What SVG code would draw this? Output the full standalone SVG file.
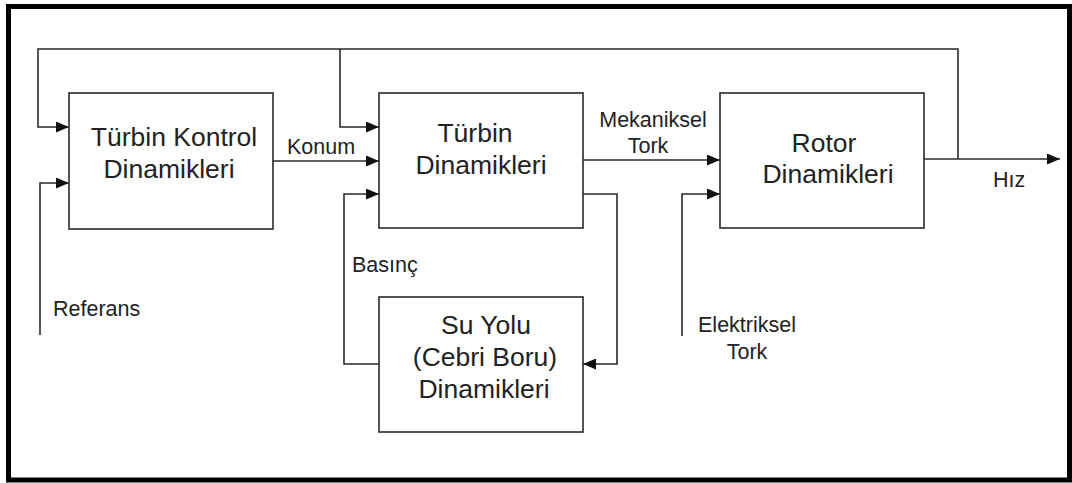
<svg xmlns="http://www.w3.org/2000/svg" width="1072" height="483" viewBox="0 0 1072 483">
  <style>
    .box { fill: #ffffff; stroke: #2a2a2a; stroke-width: 1.6; }
    .line { fill: none; stroke: #2a2a2a; stroke-width: 1.6; }
    .arr { marker-end: url(#ah); }
    .t { font-family: "Liberation Sans", Arial, sans-serif; fill: #222222; }
    .big { font-size: 26.5px; text-anchor: middle; }
    .lbl { font-size: 21.5px; }
  </style>
  <defs>
    <marker id="ah" viewBox="0 0 13 11" refX="13" refY="5.5" markerWidth="13" markerHeight="11" markerUnits="userSpaceOnUse" orient="auto">
      <path d="M0,0 L13,5.5 L0,11 z" fill="#111111"/>
    </marker>
  </defs>
  <rect x="0" y="0" width="1072" height="483" fill="#ffffff"/>
  <rect x="8.5" y="6.5" width="1061" height="473.5" fill="none" stroke="#000000" stroke-width="5"/>

  <g id="connectors">
    <path class="line arr" d="M924,159 H1060"/>
    <path class="line arr" d="M958,159 V49 H38 V127 H69"/>
    <path class="line arr" d="M340,49 V127 H379"/>
    <path class="line arr" d="M40,335 V183 H69"/>
    <path class="line arr" d="M273,161 H379"/>
    <path class="line arr" d="M379,364 H344 V194 H379"/>
    <path class="line arr" d="M583,194 H617 V364 H583"/>
    <path class="line arr" d="M583,160 H720"/>
    <path class="line arr" d="M682,336 V194 H720"/>
  </g>

  <g id="turbin-kontrol">
    <rect class="box" x="69" y="93" width="204" height="136"/>
    <text class="t big" x="174" y="146">Türbin Kontrol</text>
    <text class="t big" x="169" y="178">Dinamikleri</text>
  </g>

  <g id="turbin">
    <rect class="box" x="379" y="93" width="204" height="135"/>
    <text class="t big" x="475" y="142">Türbin</text>
    <text class="t big" x="481" y="174">Dinamikleri</text>
  </g>

  <g id="rotor">
    <rect class="box" x="720" y="93" width="204" height="135"/>
    <text class="t big" x="824" y="152">Rotor</text>
    <text class="t big" x="828" y="183">Dinamikleri</text>
  </g>

  <g id="su-yolu">
    <rect class="box" x="379" y="297" width="204" height="135"/>
    <text class="t big" x="486" y="334">Su Yolu</text>
    <text class="t big" x="485" y="366">(Cebri Boru)</text>
    <text class="t big" x="484" y="398">Dinamikleri</text>
  </g>

  <g id="labels">
    <text class="t lbl" x="287" y="154">Konum</text>
    <text class="t lbl" x="653" y="127" text-anchor="middle">Mekaniksel</text>
    <text class="t lbl" x="648" y="153" text-anchor="middle">Tork</text>
    <text class="t lbl" x="352" y="272">Basınç</text>
    <text class="t lbl" x="53" y="316">Referans</text>
    <text class="t lbl" x="993" y="187">Hız</text>
    <text class="t lbl" x="747" y="332" text-anchor="middle">Elektriksel</text>
    <text class="t lbl" x="747" y="359" text-anchor="middle">Tork</text>
  </g>
</svg>
